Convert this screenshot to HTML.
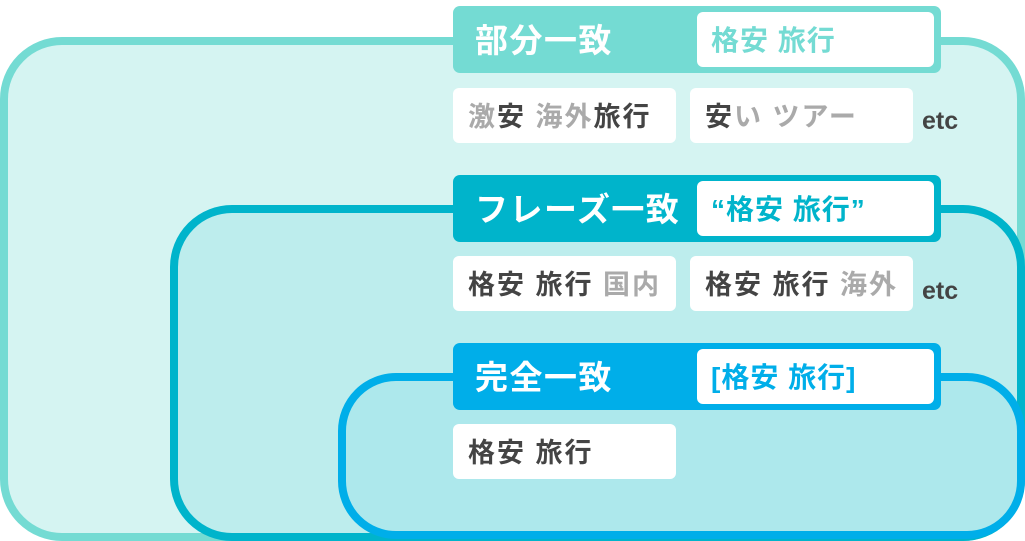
<!DOCTYPE html>
<html><head><meta charset="utf-8"><style>
body{margin:0;width:1025px;height:541px;background:#fff;position:relative;overflow:hidden;font-family:"Liberation Sans","Noto Sans CJK JP",sans-serif;font-weight:bold}
.b{position:absolute;box-sizing:border-box;border:8px solid;border-radius:62px}
.h{position:absolute;left:453px;width:488px;height:67px;border-radius:7px;box-sizing:border-box}
.h .t{position:absolute;left:22px;top:1px;line-height:67px;color:#fff;font-size:33px;letter-spacing:1.5px}
.h .w{position:absolute;left:244px;top:6px;width:237px;height:55px;background:#fff;border-radius:6px;line-height:57px;padding-left:14px;box-sizing:border-box;font-size:28px;letter-spacing:1px;white-space:nowrap}
.r{position:absolute;width:223px;height:55px;background:#fff;border-radius:6px;line-height:59px;padding-left:15px;box-sizing:border-box;font-size:27px;letter-spacing:2px;color:#444;white-space:nowrap}
.g{color:#aaa}
.etc{position:absolute;left:922px;font-size:25px;color:#444}
</style></head><body>
<div class="b" style="left:0;top:37px;width:1025px;height:504px;border-color:#74dbd3;background:#d5f4f2"></div>
<div class="b" style="left:170px;top:205px;width:855px;height:336px;border-color:#00b4cb;background:#bdeded"></div>
<div class="b" style="left:338px;top:373px;width:687px;height:166px;border-color:#00aee9;background:#ade8ec;border-radius:58px"></div>

<div class="h" style="top:6px;background:#74dbd3"><div class="t">部分一致</div><div class="w" style="color:#74dbd3">格安 旅行</div></div>
<div class="r" style="left:453px;top:88px"><span class="g">激</span>安 <span class="g">海外</span>旅行</div>
<div class="r" style="left:690px;top:88px">安<span class="g">い ツアー</span></div>
<div class="etc" style="top:107px">etc</div>

<div class="h" style="top:175px;background:#00b4cb"><div class="t">フレーズ一致</div><div class="w" style="color:#00b4cb">“格安 旅行”</div></div>
<div class="r" style="left:453px;top:256px">格安 旅行 <span class="g">国内</span></div>
<div class="r" style="left:690px;top:256px">格安 旅行 <span class="g">海外</span></div>
<div class="etc" style="top:277px">etc</div>

<div class="h" style="top:343px;background:#00aee9"><div class="t">完全一致</div><div class="w" style="color:#00aee9">[格安 旅行]</div></div>
<div class="r" style="left:453px;top:424px">格安 旅行</div>
</body></html>
